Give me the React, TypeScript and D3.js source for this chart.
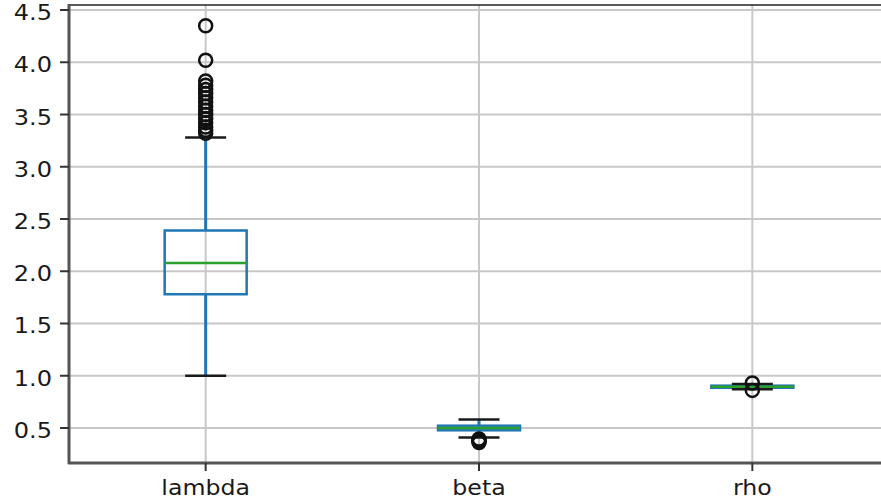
import React, { useEffect, useRef } from "react";
import * as d3 from "d3";

const categories = ["lambda", "beta", "rho"];
const q1 = [1.78, 0.478, 0.885];
const medians = [2.08, 0.5, 0.895];
const q3 = [2.39, 0.522, 0.905];
const whiskLow = [1.0, 0.41, 0.87];
const whiskHigh = [3.28, 0.582, 0.92];
const fliersLambda = [4.35, 4.02, 3.82, 3.78, 3.74, 3.7, 3.66, 3.62, 3.58, 3.54, 3.5, 3.46, 3.42, 3.38, 3.35, 3.32];
const fliersBeta = [0.395, 0.38, 0.37, 0.36];
const fliersRho = [0.93, 0.86];
const yTicks = [0.5, 1.0, 1.5, 2.0, 2.5, 3.0, 3.5, 4.0, 4.5];

const W = 881;
const H = 502;

export default function App() {
  const ref = useRef<SVGSVGElement | null>(null);
  useEffect(() => {
    document.body.style.margin = "0";
    const svg = d3.select(ref.current);
    svg.selectAll("*").remove();
    const x = d3.scaleLinear().domain([0.5, 3.5]).range([69, 889]);
    const y = d3.scaleLinear().domain([0.165, 4.548]).range([463, 5]);
    const font = "DejaVu Sans, sans-serif";
    const g = svg.append("g");

    // grid
    g.selectAll(".hg").data(yTicks).enter().append("line")
      .attr("x1", 69).attr("x2", W).attr("y1", (d) => y(d)).attr("y2", (d) => y(d))
      .attr("stroke", "#c8c8c8").attr("stroke-width", 2);
    g.selectAll(".vg").data(categories).enter().append("line")
      .attr("x1", (_, i) => x(i + 1)).attr("x2", (_, i) => x(i + 1))
      .attr("y1", 5).attr("y2", 463)
      .attr("stroke", "#c8c8c8").attr("stroke-width", 2);

    const bw = 0.3;
    const cw = 0.15;
    const fliers = [fliersLambda, fliersBeta, fliersRho];
    categories.forEach((_, i) => {
      const p = i + 1;
      const bg = g.append("g");
      // whiskers
      bg.append("line").attr("x1", x(p)).attr("x2", x(p)).attr("y1", y(q3[i])).attr("y2", y(whiskHigh[i]))
        .attr("stroke", "#1f77b4").attr("stroke-width", 3);
      bg.append("line").attr("x1", x(p)).attr("x2", x(p)).attr("y1", y(q1[i])).attr("y2", y(whiskLow[i]))
        .attr("stroke", "#1f77b4").attr("stroke-width", 3);
      // box
      bg.append("rect").attr("x", x(p - bw / 2)).attr("width", x(p + bw / 2) - x(p - bw / 2))
        .attr("y", y(q3[i])).attr("height", y(q1[i]) - y(q3[i]))
        .attr("fill", "none").attr("stroke", "#1f77b4").attr("stroke-width", 2.5);
      // caps
      [whiskLow[i], whiskHigh[i]].forEach((v) => {
        bg.append("line").attr("x1", x(p - cw / 2)).attr("x2", x(p + cw / 2)).attr("y1", y(v)).attr("y2", y(v))
          .attr("stroke", "#1a1a1a").attr("stroke-width", 2.5);
      });
      // median
      bg.append("line").attr("x1", x(p - bw / 2)).attr("x2", x(p + bw / 2)).attr("y1", y(medians[i])).attr("y2", y(medians[i]))
        .attr("stroke", "#2ca02c").attr("stroke-width", 2.5);
      // fliers
      bg.selectAll("circle").data(fliers[i]).enter().append("circle")
        .attr("cx", x(p)).attr("cy", (d) => y(d)).attr("r", 6.5)
        .attr("fill", "none").attr("stroke", "#111").attr("stroke-width", 2.5);
    });

    // spines
    g.append("line").attr("x1", 69).attr("x2", W).attr("y1", 5).attr("y2", 5).attr("stroke", "#222").attr("stroke-width", 1.6);
    g.append("line").attr("x1", 69).attr("x2", 69).attr("y1", 4).attr("y2", 464).attr("stroke", "#555").attr("stroke-width", 3);
    g.append("line").attr("x1", 68).attr("x2", W).attr("y1", 463).attr("y2", 463).attr("stroke", "#555").attr("stroke-width", 3);

    // y ticks
    yTicks.forEach((t) => {
      g.append("line").attr("x1", 60).attr("x2", 69).attr("y1", y(t)).attr("y2", y(t)).attr("stroke", "#333").attr("stroke-width", 2);
      g.append("text").attr("transform", `translate(52,${y(t) + 10}) scale(1.12,1)`)
        .attr("text-anchor", "end").attr("font-family", font).attr("font-size", 21.5).attr("fill", "#1a1a1a")
        .text(d3.format(".1f")(t));
    });
    // x ticks
    categories.forEach((c, i) => {
      g.append("line").attr("x1", x(i + 1)).attr("x2", x(i + 1)).attr("y1", 463).attr("y2", 471).attr("stroke", "#333").attr("stroke-width", 2);
      g.append("text").attr("transform", `translate(${x(i + 1)},495) scale(1.1,1)`)
        .attr("text-anchor", "middle").attr("font-family", font).attr("font-size", 21.5).attr("fill", "#1a1a1a")
        .text(c);
    });
  }, []);
  return <svg ref={ref} width={W} height={H} style={{ display: "block", background: "#fff" }} />;
}
